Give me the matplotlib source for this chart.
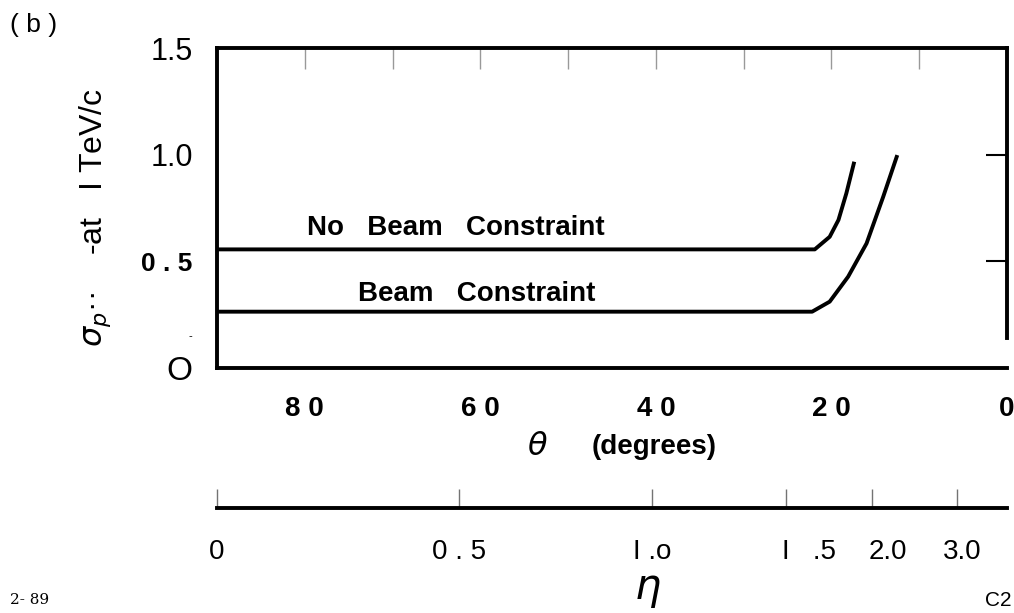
import matplotlib
matplotlib.use("Agg")
import matplotlib.pyplot as plt
import numpy as np

plt.rcParams['font.family'] = ['Liberation Sans', 'DejaVu Sans']
plt.rcParams['mathtext.fontset'] = 'dejavusans'

# curve values (theta in degrees, sigma_p/p)
theta_nobeam = [90, 21.9, 20.2, 19.2, 18.3, 17.4]
sigma_nobeam = [0.556, 0.556, 0.615, 0.694, 0.819, 0.967]
theta_beam = [90, 22.2, 20.2, 18.1, 16.0, 14.1, 12.5]
sigma_beam = [0.264, 0.264, 0.311, 0.428, 0.584, 0.803, 0.998]

# axis ticks and labels
theta_ticks = [80, 60, 40, 20, 0]
theta_labels = ['8 0', '6 0', '4 0', '2 0', '0']
theta_top_ticks = [80, 70, 60, 50, 40, 30, 20, 10]
y_ticks = [0, 0.155, 0.5, 1.0, 1.5]
y_labels = ['O', '-', '0 . 5', '1.0', '1.5']
eta_ticks = [0, 0.5, 1.0, 1.5, 2.0, 3.0]
eta_label_pos = [0, 0.5, 1.0, 1.61, 2.13, 3.1]
eta_labels = ['0', '0 . 5', 'I .o', 'I   .5', '2.0', '3.0']


def eta_to_theta(eta):
    return np.degrees(2 * np.arctan(np.exp(-np.asarray(eta))))


fig = plt.figure(figsize=(10.14, 6.13), dpi=100)
ax = fig.add_axes([217 / 1014, 1 - 368 / 613, 790 / 1014, 320 / 613])

ax.plot(theta_nobeam, sigma_nobeam, color='black', lw=2.8, solid_capstyle='butt')
ax.plot(theta_beam, sigma_beam, color='black', lw=2.8, solid_capstyle='butt')

ax.set_xlim(90, 0)
ax.set_ylim(0, 1.5)

for s in ax.spines.values():
    s.set_linewidth(2.8)
ax.spines['right'].set_bounds(0.14, 1.5)

# theta axis
ax.set_xticks(theta_ticks)
ax.set_xticklabels(theta_labels, fontsize=20, fontweight='bold')
ax.set_xticks(theta_top_ticks, minor=True)
ax.tick_params(axis='x', which='both', bottom=False, top=True, direction='in',
               length=15, width=1, color='0.6', pad=20)

# sigma axis
ax.yaxis.remove_overlapping_locs = False
ax.set_yticks(y_ticks)
ax.set_yticklabels(y_labels)
ax.set_yticks([0.5, 1.0], minor=True)
ax.tick_params(axis='y', which='major', left=False, right=False, pad=14)
ax.tick_params(axis='y', which='minor', left=False, right=True, direction='in',
               length=15, width=1.5, color='black')
ylab_sizes = [24, 8, 19, 22, 22]
ylab_weights = ['normal', 'normal', 'bold', 'normal', 'normal']
for lab, fs, fw in zip(ax.get_yticklabels(), ylab_sizes, ylab_weights):
    lab.set_fontsize(fs)
    lab.set_fontweight(fw)

ax.text(79.75, 0.656, 'No   Beam   Constraint', fontsize=20, fontweight='bold',
        ha='left', va='center')
ax.text(73.9, 0.347, 'Beam   Constraint', fontsize=20, fontweight='bold',
        ha='left', va='center')

# eta axis
ax2 = fig.add_axes([217 / 1014, 1 - 508 / 613, 790 / 1014, 0.0001])
ax2.set_xlim(90, 0)
ax2.patch.set_visible(False)
ax2.xaxis.remove_overlapping_locs = False
for k in ['top', 'left', 'right']:
    ax2.spines[k].set_visible(False)
ax2.spines['bottom'].set_linewidth(2.8)
ax2.set_yticks([])
ax2.set_xticks(eta_to_theta(eta_label_pos))
ax2.set_xticklabels(eta_labels, fontsize=20)
ax2.set_xticks(eta_to_theta(eta_ticks), minor=True)
ax2.tick_params(axis='x', which='major', length=0, pad=22)
ax2.tick_params(axis='x', which='minor', direction='in', length=14, width=1,
                color='0.45')

# labels
fig.text(95 / 1014, 1 - 218 / 613, r'$\sigma_{p}$' + '\u00b7\u00b7    -at   I TeV/c',
         rotation=90, fontsize=23, ha='center', va='center')
fig.text(537 / 1014, 1 - 447 / 613, r'$\theta$', fontsize=23, ha='center', va='center')
fig.text(592 / 1014, 1 - 447 / 613, '(degrees)', fontsize=20, fontweight='bold',
         ha='left', va='center')
fig.text(648 / 1014, 1 - 590 / 613, r'$\eta$', fontsize=30, ha='center', va='center')
fig.text(10 / 1014, 1 - 25 / 613, '( b )', fontsize=19, ha='left', va='center')
fig.text(10 / 1014, 1 - 600 / 613, '2- 89', fontsize=11, family='DejaVu Serif',
         ha='left', va='center')
fig.text(985 / 1014, 1 - 600 / 613, 'C2', fontsize=15, ha='left', va='center')

fig.savefig('out.png', dpi=100)
